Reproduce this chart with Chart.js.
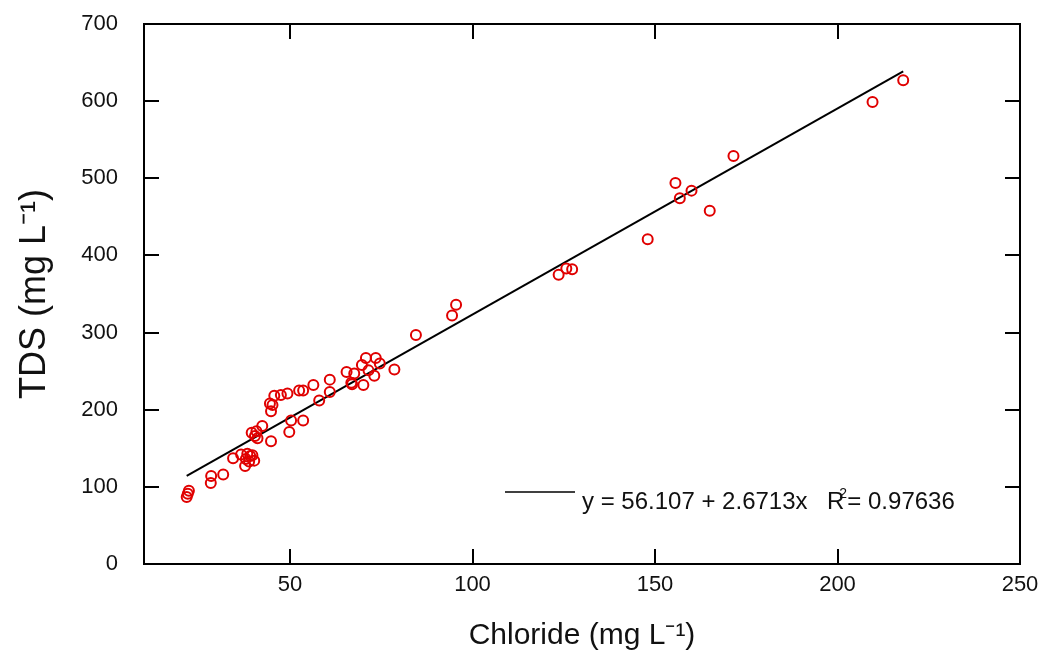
<!DOCTYPE html>
<html><head><meta charset="utf-8">
<script src="https://cdn.jsdelivr.net/npm/chart.js@4/dist/chart.umd.min.js"></script>
<style>html,body{margin:0;padding:0;background:#fff}#wrap{width:1044px;height:658px}</style>
</head><body><div id="wrap"><canvas id="c" width="1044" height="658"></canvas></div>
<script>
// ---- data ----
const chlorideX = [21.7, 22.0, 22.3, 28.4, 28.3, 31.7, 34.4, 36.6, 37.7, 38.3, 39.1, 39.7, 40.2, 37.9, 38.8,
  39.5, 40.8, 41.1, 40.4, 42.4, 44.8, 44.8, 45.2, 44.5, 45.7, 47.5, 49.3, 49.8, 50.3, 52.5, 53.6, 53.6,
  56.4, 58.0, 60.9, 60.9, 65.5, 67.6, 66.8, 67.0, 70.1, 69.7, 70.8, 71.5, 73.1, 73.5, 74.6, 78.6, 84.5,
  94.4, 95.5, 123.6, 125.7, 127.3, 148.0, 155.6, 156.8, 160.0, 165.0, 171.5, 209.6, 218.0];
const tdsY = [87, 91, 95, 114, 105, 116, 137, 142, 127, 143, 140, 141, 134, 136, 133,
  170, 172, 163, 166, 179, 159, 198, 206, 208, 218, 219, 221, 171, 186, 225, 225, 186,
  232, 212, 239, 223, 249, 247, 235, 233, 232, 258, 267, 251, 244, 267, 260, 252, 297,
  322, 336, 375, 383, 382, 421, 494, 474, 484, 458, 529, 599, 627];
const fitLineX = [21.7, 218.0];
const fitLineY = [114.1, 638.5];
const xTicks = [50, 100, 150, 200, 250];
const yTicks = [0, 100, 200, 300, 400, 500, 600, 700];
const xAxisTitle = 'Chloride (mg L\u207B\u00B9)';
const yAxisTitle = 'TDS (mg L\u207B\u00B9)';
const fitEquation = 'y = 56.107 + 2.6713x';
const fitR2Value = '= 0.97636';

const FONT = "'Liberation Sans', Arial, sans-serif";

function noScalePadding(s) {
  s.paddingTop = 0; s.paddingBottom = 0; s.paddingLeft = 0; s.paddingRight = 0;
}

const framePlugin = {
  id: 'frame',
  afterDatasetsDraw(chart) {
    const {ctx, chartArea: a, scales: {x, y}} = chart;
    ctx.save();
    ctx.strokeStyle = '#000';
    ctx.lineWidth = 2;
    ctx.strokeRect(a.left, a.top, a.right - a.left, a.bottom - a.top);
    const L = 15;
    ctx.beginPath();
    xTicks.forEach(v => {
      const px = Math.round(x.getPixelForValue(v));
      ctx.moveTo(px, a.bottom); ctx.lineTo(px, a.bottom - L);
      ctx.moveTo(px, a.top); ctx.lineTo(px, a.top + L);
    });
    yTicks.forEach(v => {
      const py = Math.round(y.getPixelForValue(v));
      ctx.moveTo(a.left, py); ctx.lineTo(a.left + L, py);
      ctx.moveTo(a.right, py); ctx.lineTo(a.right - L, py);
    });
    ctx.stroke();
    // fit legend inside the plot
    const ly = a.top + 468;
    ctx.lineWidth = 1.5;
    ctx.beginPath();
    ctx.moveTo(a.left + 361, ly); ctx.lineTo(a.left + 431, ly);
    ctx.stroke();
    ctx.fillStyle = '#111';
    ctx.textBaseline = 'alphabetic';
    ctx.textAlign = 'left';
    ctx.font = '24px ' + FONT;
    const by = ly + 17;
    ctx.fillText(fitEquation, a.left + 438, by);
    const rx = a.left + 683;
    ctx.fillText('R', rx, by);
    const rw = ctx.measureText('R').width;
    ctx.font = '14px ' + FONT;
    ctx.fillText('2', rx + rw - 5, by - 11);
    ctx.font = '24px ' + FONT;
    ctx.fillText(fitR2Value, rx + rw + 3, by);
    ctx.restore();
  }
};

new Chart(document.getElementById('c'), {
  type: 'scatter',
  data: {
    datasets: [
      {
        label: 'TDS vs Chloride',
        data: chlorideX.map((v, i) => ({x: v, y: tdsY[i]})),
        pointStyle: 'circle',
        pointRadius: 5,
        pointHoverRadius: 5,
        borderWidth: 2,
        borderColor: '#e00000',
        backgroundColor: 'rgba(0,0,0,0)'
      },
      {
        type: 'line',
        label: 'fit',
        data: fitLineX.map((v, i) => ({x: v, y: fitLineY[i]})),
        borderColor: '#000',
        borderWidth: 2,
        pointRadius: 0,
        fill: false,
        tension: 0
      }
    ]
  },
  options: {
    responsive: false,
    animation: false,
    devicePixelRatio: 1,
    layout: {padding: {top: 24, right: 24, left: 0, bottom: 0}},
    plugins: {legend: {display: false}, tooltip: {enabled: false}},
    scales: {
      x: {
        type: 'linear', min: 10, max: 250,
        grid: {display: false, drawTicks: false}, border: {display: false},
        afterBuildTicks: s => { s.ticks = xTicks.map(v => ({value: v})); },
        afterFit: s => { s.height = 94; noScalePadding(s); },
        ticks: {color: '#111', padding: 8, font: {family: FONT, size: 22}, maxRotation: 0},
        title: {display: true, text: xAxisTitle, color: '#111', font: {family: FONT, size: 30}, padding: {top: 0, bottom: 4}}
      },
      y: {
        type: 'linear', min: 0, max: 700,
        grid: {display: false, drawTicks: false}, border: {display: false},
        afterBuildTicks: s => { s.ticks = yTicks.map(v => ({value: v})); },
        afterFit: s => { s.width = 144; noScalePadding(s); },
        ticks: {color: '#111', padding: 26, font: {family: FONT, size: 22}},
        title: {display: true, text: yAxisTitle, color: '#111', font: {family: FONT, size: 36}, padding: {top: 13, bottom: 0}}
      }
    }
  },
  plugins: [framePlugin]
});
</script>
</body></html>
